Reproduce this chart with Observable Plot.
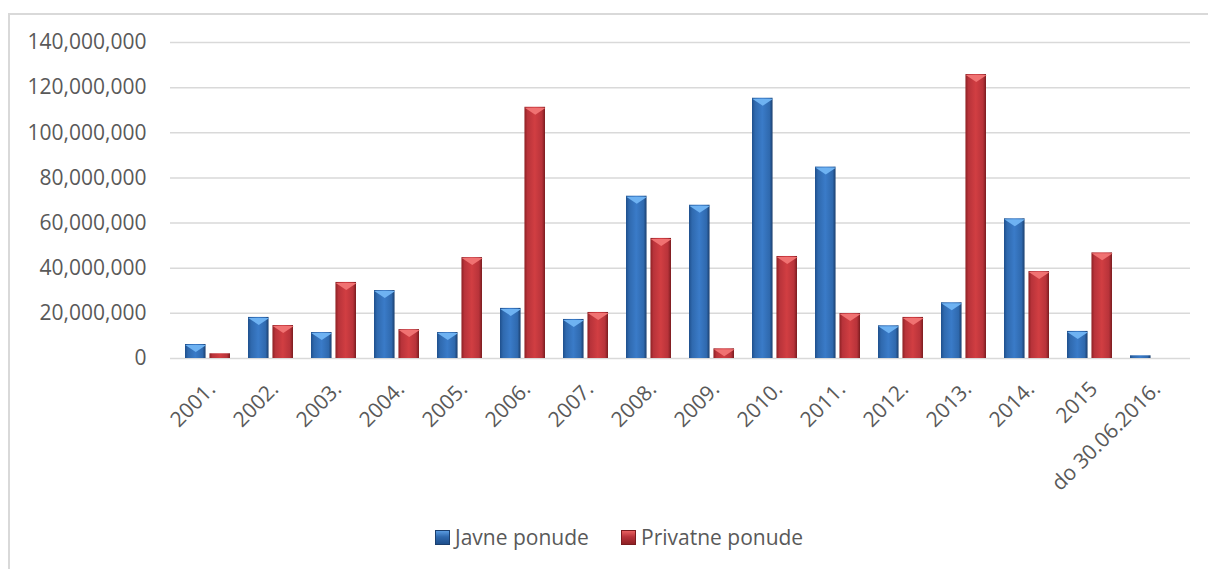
<!DOCTYPE html>
<html>
<head>
<meta charset="utf-8">
<script src="https://cdn.jsdelivr.net/npm/d3@7"></script>
<script src="https://cdn.jsdelivr.net/npm/@observablehq/plot@0.6"></script>
<style>
  html, body { margin: 0; padding: 0; background: #fff; overflow: hidden; }
  body { width: 1208px; height: 569px; position: relative; font-family: "Open Sans", sans-serif; }
  #frame { position: absolute; left: 8px; top: 13px; width: 1400px; height: 700px; border: 2px solid #d9d9d9; box-sizing: border-box; pointer-events: none; }
  #legend { position: absolute; left: 0; top: 520px; width: 1208px; height: 34px; font-size: 21px; color: #595959; }
  .item { position: absolute; top: 0; display: flex; align-items: center; height: 34px; }
  .sw { width: 15px; height: 15px; margin-right: 5px; box-sizing: border-box; }
</style>
</head>
<body>
<div id="chart"></div>
<div id="legend"></div>
<div id="frame"></div>
<script>
const years = ["2001.", "2002.", "2003.", "2004.", "2005.", "2006.", "2007.", "2008.", "2009.", "2010.", "2011.", "2012.", "2013.", "2014.", "2015", "do 30.06.2016."];
const javne = [6200000, 18200000, 11500000, 30100000, 11500000, 22200000, 17300000, 71900000, 67900000, 115300000, 84800000, 14500000, 24700000, 61900000, 12000000, 1200000];
const privatne = [2100000, 14600000, 33700000, 12800000, 44700000, 111300000, 20400000, 53200000, 4300000, 45200000, 19900000, 18200000, 125800000, 38500000, 46800000, 0];
const yTicks = [0, 20000000, 40000000, 60000000, 80000000, 100000000, 120000000, 140000000];
const seriesNames = ["Javne ponude", "Privatne ponude"];

const rowsJ = years.map((y, i) => ({year: y, value: javne[i]}));
const rowsP = years.map((y, i) => ({year: y, value: privatne[i]}));

const band = (1190 - 170) / 16 * 0.72;
const half = band / 2 + 1.5;

const topTri = {
  draw(ctx) {
    ctx.moveTo(-10.5, -3.5);
    ctx.lineTo(10.5, -3.5);
    ctx.lineTo(0, 3.5);
    ctx.closePath();
  }
};

const chart = Plot.plot({
  width: 1208,
  height: 500,
  marginLeft: 170,
  marginRight: 18,
  marginTop: 42,
  marginBottom: 142,
  style: {fontFamily: "Open Sans, sans-serif", fontSize: "21px", color: "#595959", background: "transparent"},
  x: {type: "band", domain: years, paddingInner: 0.28, paddingOuter: 0.14, label: null},
  y: {domain: [0, 140000000], label: null},
  marks: [
    Plot.ruleY(yTicks, {stroke: "#d9d9d9", strokeWidth: 1.5}),
    Plot.barY(rowsJ, {x: "year", y: "value", fill: "url(#gBlue)", insetRight: half, filter: d => d.value > 0}),
    Plot.barY(rowsP, {x: "year", y: "value", fill: "url(#gRed)", insetLeft: half, filter: d => d.value > 0}),
    Plot.dot(rowsJ, {x: "year", y: "value", symbol: topTri, fill: "#6eb2f2", stroke: "none", dx: -((band / 2 - 1.5) / 2 + 1.5), dy: 4, filter: d => d.value > 3000000}),
    Plot.dot(rowsP, {x: "year", y: "value", symbol: topTri, fill: "#f07272", stroke: "none", dx: (band / 2 - 1.5) / 2 + 1.5, dy: 4, filter: d => d.value > 3000000}),
    Plot.axisY({ticks: yTicks, tickFormat: d3.format(","), tickSize: 0, tickPadding: 24, fill: "#595959"}),
    Plot.axisX({tickRotate: -45, tickSize: 0, tickPadding: 18, dx: 4, dy: 9, fill: "#595959"})
  ]
});

const svg = d3.select(chart);
const defs = svg.insert("defs", ":first-child");
function grad(id, stops) {
  const g = defs.append("linearGradient").attr("id", id).attr("x1", "0").attr("x2", "1").attr("y1", "0").attr("y2", "0");
  stops.forEach(([o, c]) => g.append("stop").attr("offset", o).attr("stop-color", c));
}
grad("gBlue", [[0, "#1e4f8c"], [0.15, "#2f69ae"], [0.5, "#3a7bc8"], [0.85, "#2f69ae"], [1, "#1b3f6e"]]);
grad("gRed", [[0, "#8e2124"], [0.15, "#b8333a"], [0.5, "#d13e42"], [0.85, "#b8333a"], [1, "#7a1c1f"]]);

document.getElementById("chart").appendChild(chart);

const legend = document.getElementById("legend");
const items = [
  {name: seriesNames[0], left: 435, bg: "linear-gradient(180deg,#5a9be0 0,#2f69ae 45%,#1e4f8c 100%)", border: "#1b3f6e"},
  {name: seriesNames[1], left: 621, bg: "linear-gradient(180deg,#e86060 0,#b8333a 45%,#8e2124 100%)", border: "#7a1c1f"}
];
items.forEach(it => {
  const d = document.createElement("div");
  d.className = "item";
  d.style.left = it.left + "px";
  const s = document.createElement("div");
  s.className = "sw";
  s.style.background = it.bg;
  s.style.border = "1px solid " + it.border;
  const t = document.createElement("span");
  t.textContent = it.name;
  d.appendChild(s);
  d.appendChild(t);
  legend.appendChild(d);
});
</script>
</body>
</html>
